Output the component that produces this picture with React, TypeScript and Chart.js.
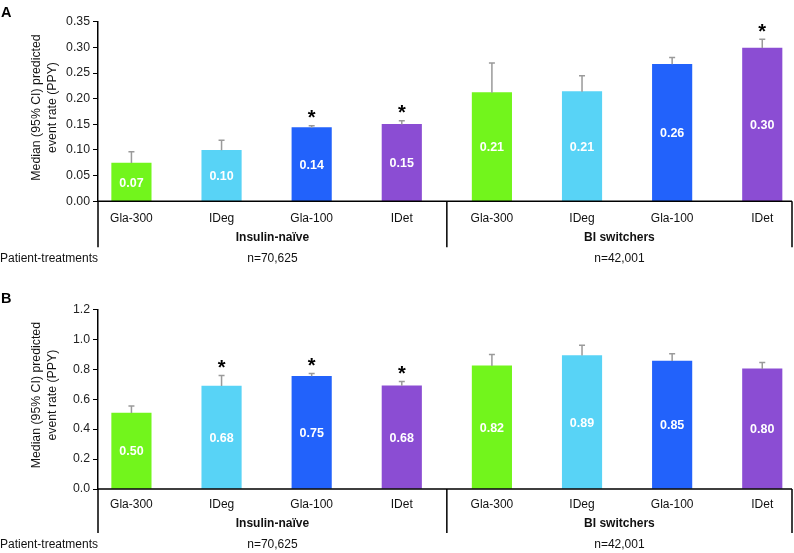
import React, { useEffect, useRef } from 'react';
import { Chart, registerables } from 'chart.js';
Chart.register(...registerables);

const categories = ['Gla-300', 'IDeg', 'Gla-100', 'IDet', 'Gla-300', 'IDeg', 'Gla-100', 'IDet'];
const groups = ['Insulin-naïve', 'BI switchers'];
const patientCounts = ['n=70,625', 'n=42,001'];
const rowLabel = 'Patient-treatments';
const yTitle = ['Median (95% CI) predicted', 'event rate (PPY)'];

const ratesA = [0.0747, 0.0994, 0.1435, 0.1499, 0.2117, 0.2136, 0.2670, 0.2988];
const upperA = [0.0967, 0.1190, 0.1474, 0.1570, 0.2696, 0.2448, 0.2800, 0.3158];
const labelsA = ['0.07', '0.10', '0.14', '0.15', '0.21', '0.21', '0.26', '0.30'];
const starsA = [false, false, true, true, false, false, false, true];

const ratesB = [0.507, 0.687, 0.753, 0.689, 0.822, 0.891, 0.855, 0.802];
const upperB = [0.555, 0.758, 0.771, 0.718, 0.898, 0.960, 0.904, 0.845];
const labelsB = ['0.50', '0.68', '0.75', '0.68', '0.82', '0.89', '0.85', '0.80'];
const starsB = [false, true, true, true, false, false, false, false];

const barColors = ['#72F51C', '#58D3F6', '#2262FB', '#8B4DD3', '#72F51C', '#58D3F6', '#2262FB', '#8B4DD3'];
const FONT = "'Liberation Sans', Arial, Helvetica, sans-serif";

type PanelProps = {
  letter: string;
  values: number[];
  upper: number[];
  labels: string[];
  stars: boolean[];
  max: number;
  step: number;
  decimals: number;
  height: number;
  padTop: number;
  padBottom: number;
  catOff: number;
  groupOff: number;
  patOff: number;
  dropOff: number;
  letterY: number;
};

function Panel(p: PanelProps) {
  const ref = useRef<HTMLCanvasElement | null>(null);
  useEffect(() => {
    const plugin = {
      id: 'deco',
      afterDatasetsDraw(chart: any) {
        const ctx = chart.ctx as CanvasRenderingContext2D;
        const xs = chart.scales.x;
        const ys = chart.scales.y;
        const a = chart.chartArea;
        const base = ys.getPixelForValue(0);
        ctx.save();
        // error bars
        ctx.strokeStyle = '#9A9A9A';
        ctx.lineWidth = 1.5;
        p.values.forEach((v, i) => {
          const x = xs.getPixelForValue(i);
          const yt = ys.getPixelForValue(v);
          const yc = ys.getPixelForValue(p.upper[i]);
          ctx.beginPath();
          ctx.moveTo(x, yt);
          ctx.lineTo(x, yc);
          ctx.moveTo(x - 3, yc);
          ctx.lineTo(x + 3, yc);
          ctx.stroke();
        });
        // value labels
        ctx.fillStyle = '#FFFFFF';
        ctx.font = `bold 12.5px ${FONT}`;
        ctx.textAlign = 'center';
        ctx.textBaseline = 'middle';
        p.values.forEach((v, i) => {
          const x = xs.getPixelForValue(i);
          const yt = ys.getPixelForValue(v);
          ctx.fillText(p.labels[i], x, (yt + base) / 2 + 1);
        });
        // asterisks
        ctx.fillStyle = '#000';
        ctx.font = `bold 20px ${FONT}`;
        ctx.textBaseline = 'alphabetic';
        p.stars.forEach((s, i) => {
          if (!s) return;
          const x = xs.getPixelForValue(i);
          const yc = ys.getPixelForValue(p.upper[i]);
          ctx.fillText('*', x, yc - 13 + 11.5);
        });
        // axes lines
        ctx.strokeStyle = '#000';
        ctx.lineWidth = 1.5;
        ctx.beginPath();
        ctx.moveTo(a.left, base);
        ctx.lineTo(a.right, base);
        const sep = xs.getPixelForValue(3.5);
        [a.left, sep, a.right].forEach((x) => {
          ctx.moveTo(x, base);
          ctx.lineTo(x, base + p.dropOff);
        });
        ctx.stroke();
        // category labels
        ctx.fillStyle = '#111';
        ctx.font = `12px ${FONT}`;
        ctx.textBaseline = 'middle';
        ctx.textAlign = 'center';
        categories.forEach((c, i) => {
          ctx.fillText(c, xs.getPixelForValue(i), base + p.catOff);
        });
        // group labels
        ctx.font = `bold 12px ${FONT}`;
        const g1 = (a.left + sep) / 2;
        const g2 = (sep + a.right) / 2;
        ctx.fillText(groups[0], g1, base + p.groupOff);
        ctx.fillText(groups[1], g2, base + p.groupOff);
        // patient counts
        ctx.font = `12px ${FONT}`;
        ctx.fillText(patientCounts[0], g1, base + p.patOff);
        ctx.fillText(patientCounts[1], g2, base + p.patOff);
        ctx.textAlign = 'left';
        ctx.fillText(rowLabel, 0, base + p.patOff);
        // y title
        const cy = (a.top + a.bottom) / 2 - 4;
        ctx.font = `12.3px ${FONT}`;
        ctx.save();
        ctx.translate(37, cy);
        ctx.rotate(-Math.PI / 2);
        ctx.textAlign = 'center';
        ctx.fillText(yTitle[0], 0, 0);
        ctx.restore();
        ctx.save();
        ctx.translate(53, cy);
        ctx.rotate(-Math.PI / 2);
        ctx.textAlign = 'center';
        ctx.fillText(yTitle[1], 0, 0);
        ctx.restore();
        // panel letter
        ctx.fillStyle = '#000';
        ctx.font = `bold 14.5px ${FONT}`;
        ctx.textAlign = 'left';
        ctx.textBaseline = 'alphabetic';
        ctx.fillText(p.letter, 1, p.letterY);
        ctx.restore();
      },
    };
    const chart = new Chart(ref.current as HTMLCanvasElement, {
      type: 'bar',
      data: {
        datasets: [
          {
            data: p.values.map((v, i) => ({ x: i, y: v })),
            backgroundColor: barColors,
            borderWidth: 0,
            barThickness: 39.5,
          } as any,
        ],
      },
      options: {
        responsive: false,
        animation: false,
        layout: { padding: { top: p.padTop, bottom: p.padBottom, left: 0, right: 2 } },
        plugins: { legend: { display: false }, tooltip: { enabled: false } },
        scales: {
          x: { type: 'linear', display: false, offset: false, min: -0.371, max: 7.33 },
          y: {
            min: 0,
            max: p.max,
            afterFit: (s: any) => {
              s.width = 98;
            },
            ticks: {
              stepSize: p.step,
              callback: (v: any) => Number(v).toFixed(p.decimals),
              font: { family: FONT, size: 12.3 },
              color: '#222',
              padding: 3,
            },
            grid: { drawOnChartArea: false, drawTicks: true, tickLength: 5, color: '#000', lineWidth: 1 },
            border: { display: true, color: '#000', width: 1.5 },
          },
        },
      } as any,
      plugins: [plugin],
    });
    return () => chart.destroy();
  }, []);
  return <canvas ref={ref} width={794} height={p.height} style={{ display: 'block' }} />;
}

export default function App() {
  return (
    <div style={{ position: 'absolute', left: 0, top: 0, width: 794, height: 553, background: '#fff' }}>
      <Panel
        letter="A"
        values={ratesA}
        upper={upperA}
        labels={labelsA}
        stars={starsA}
        max={0.35}
        step={0.05}
        decimals={2}
        height={276}
        padTop={21.7}
        padBottom={276 - 201.3}
        catOff={17}
        groupOff={36}
        patOff={57}
        dropOff={46}
        letterY={16.5}
      />
      <Panel
        letter="B"
        values={ratesB}
        upper={upperB}
        labels={labelsB}
        stars={starsB}
        max={1.2}
        step={0.2}
        decimals={1}
        height={277}
        padTop={33.3}
        padBottom={277 - 213}
        catOff={16}
        groupOff={35}
        patOff={56}
        dropOff={44}
        letterY={27}
      />
    </div>
  );
}
